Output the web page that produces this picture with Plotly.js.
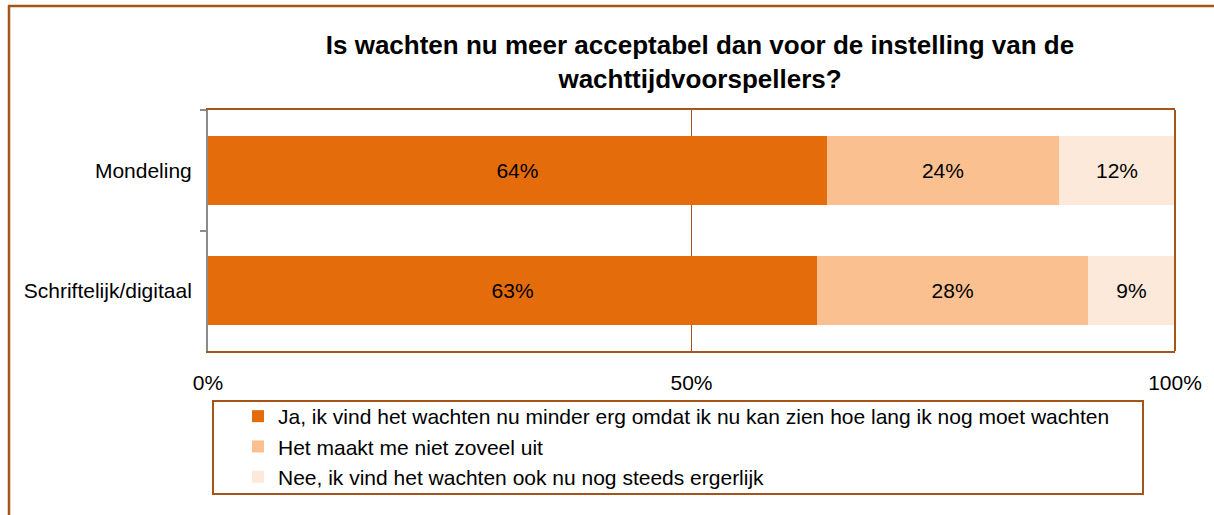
<!DOCTYPE html>
<html>
<head>
<meta charset="utf-8">
<script src="https://cdn.plot.ly/plotly-3.0.1.min.js"></script>
<style>
html,body{margin:0;padding:0;background:#fff;}
#chart{width:1214px;height:515px;}
</style>
</head>
<body>
<div id="chart"></div>
<script>
const categories = ["Mondeling", "Schriftelijk/digitaal"];
const seriesNames = [
  "Ja, ik vind het wachten nu minder erg omdat ik nu kan zien hoe lang ik nog moet wachten",
  "Het maakt me niet zoveel uit",
  "Nee, ik vind het wachten ook nu nog steeds ergerlijk"
];
const jaValues = [64, 63];
const neutraalValues = [24, 28];
const neeValues = [12, 9];
const seriesColors = ["#E46C0A", "#FAC090", "#FDE9D9"];
const xTickVals = [0, 50, 100];
const xTickText = ["0%", "50%", "100%"];

const allValues = [jaValues, neutraalValues, neeValues];
const FONT = "'Liberation Sans', Arial, sans-serif";
const BROWN = "#A5541A";
const FS = 21;

const traces = allValues.map((vals, i) => ({
  type: "bar",
  orientation: "h",
  name: seriesNames[i],
  y: categories,
  x: vals,
  text: vals.map(v => v + "%"),
  textposition: "inside",
  insidetextanchor: "middle",
  textangle: 0,
  insidetextfont: {family: FONT, size: FS, color: "#000"},
  marker: {color: seriesColors[i], line: {width: 0}},
  legendgroup: "g" + i,
  hoverinfo: "skip"
}));

// plot area in pixels
const L = 208, R = 1175, T = 110, B = 351, W = 1214, H = 515;
const pw = R - L, ph = B - T;
const px = x => (x - L) / pw;
const py = y => (B - y) / ph;

const layout = {
  width: W, height: H,
  margin: {l: L, r: W - R, t: T, b: H - B, pad: 0},
  paper_bgcolor: "#fff",
  plot_bgcolor: "#fff",
  font: {family: FONT, size: FS, color: "#000"},
  barmode: "stack",
  bargap: 0.43,
  showlegend: true,
  title: {
    text: "<b>Is wachten nu meer acceptabel dan voor de instelling van de<br>wachttijdvoorspellers?</b>",
    font: {family: FONT, size: 26, color: "#000"},
    xref: "paper", x: px(700), xanchor: "center",
    yref: "container", y: 1 - 54/H, yanchor: "top"
  },
  xaxis: {
    range: [0, 100],
    tickvals: xTickVals,
    ticktext: xTickText,
    showgrid: true,
    gridcolor: BROWN,
    gridwidth: 1.5,
    zeroline: false,
    showline: true,
    linecolor: BROWN,
    linewidth: 2,
    mirror: true,
    ticks: "outside",
    ticklen: 0,
    ticklabelstandoff: 12,
    tickfont: {family: FONT, size: FS, color: "#000"},
    fixedrange: true
  },
  yaxis: {
    type: "category",
    autorange: "reversed",
    showgrid: false,
    zeroline: false,
    showline: true,
    linecolor: "#8C8C8C",
    linewidth: 2,
    ticks: "outside",
    tickson: "boundaries",
    ticklen: 6,
    tickwidth: 2,
    tickcolor: "#8C8C8C",
    ticklabelstandoff: 10,
    tickfont: {family: FONT, size: FS, color: "#000"},
    fixedrange: true
  },
  legend: {
    x: px(238), xanchor: "left",
    y: py(396), yanchor: "top",
    orientation: "v",
    traceorder: "grouped",
    tracegroupgap: 0,
    bgcolor: "rgba(0,0,0,0)",
    borderwidth: 0,
    font: {family: FONT, size: FS, color: "#000"}
  },
  shapes: [
    // outer chart border (left and top)
    {type: "line", xref: "paper", yref: "paper", x0: px(9), x1: px(9), y0: py(5), y1: py(530), line: {color: BROWN, width: 2.5}},
    {type: "line", xref: "paper", yref: "paper", x0: px(8), x1: px(1230), y0: py(6), y1: py(6), line: {color: BROWN, width: 2.5}},
    // right plot border
    {type: "line", xref: "paper", yref: "paper", x0: 1, x1: 1, y0: 0, y1: 1, line: {color: BROWN, width: 2}},
    // legend box
    {type: "rect", xref: "paper", yref: "paper", x0: px(213), x1: px(1143), y0: py(401), y1: py(494), line: {color: BROWN, width: 2}, fillcolor: "rgba(0,0,0,0)"}
  ]
};

Plotly.newPlot("chart", traces, layout, {displayModeBar: false, staticPlot: true});
</script>
</body>
</html>
